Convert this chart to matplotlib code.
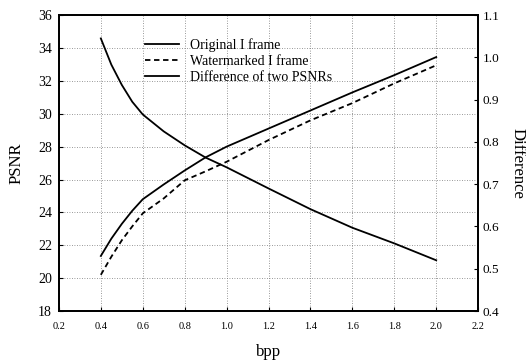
import numpy as np
import matplotlib.pyplot as plt

plt.rcParams['font.family'] = ['Liberation Serif', 'DejaVu Serif']

# PSNR vs bit rate for original and watermarked I frames
bpp = [0.4, 0.45, 0.5, 0.55, 0.6, 0.7, 0.8, 0.9, 1.0, 1.2, 1.4, 1.6, 1.8, 2.0]
psnr_orig = [21.35, 22.4, 23.3, 24.1, 24.8, 25.7, 26.55, 27.35, 28.0, 29.1, 30.2, 31.3, 32.35, 33.45]
psnr_wm = [20.2, 21.3, 22.3, 23.15, 23.94, 24.85, 25.95, 26.5, 27.08, 28.4, 29.6, 30.65, 31.85, 32.95]
# difference between the two PSNRs (right axis)
diff = [1.045, 0.983, 0.935, 0.895, 0.865, 0.825, 0.792, 0.763, 0.74, 0.69, 0.641, 0.597, 0.56, 0.52]

x_ticks = [0.2, 0.4, 0.6, 0.8, 1.0, 1.2, 1.4, 1.6, 1.8, 2.0, 2.2]
y_ticks = [18, 20, 22, 24, 26, 28, 30, 32, 34, 36]
y2_ticks = [0.4, 0.5, 0.6, 0.7, 0.8, 0.9, 1.0, 1.1]

fig = plt.figure(figsize=(5.26, 3.61), dpi=100)
ax = fig.add_axes([0.112, 0.1385, 0.797, 0.8195])
ax2 = ax.twinx()

l1, = ax.plot(bpp, psnr_orig, color='black', lw=1.3)
l2, = ax.plot(bpp, psnr_wm, color='black', lw=1.3, dashes=(3, 2))
l3, = ax2.plot(bpp, diff, color='black', lw=1.3)

ax.set_xlim(0.2, 2.2)
ax.set_ylim(18, 36)
ax2.set_ylim(0.4, 1.1)
ax.set_xticks(x_ticks)
ax.set_xticklabels([f'{v:.1f}' for v in x_ticks], fontsize=7.5)
ax.set_yticks(y_ticks)
ax.set_yticklabels([str(v) for v in y_ticks], fontsize=10)
ax2.set_yticks(y2_ticks)
ax2.set_yticklabels([f'{v:.1f}' for v in y2_ticks], fontsize=9.5)

ax.grid(True, color='#777777', linestyle=(0, (1, 2)), linewidth=0.6)
ax.tick_params(axis='both', direction='in', length=3, width=0.8)
ax.tick_params(axis='x', pad=8)
ax.tick_params(axis='y', pad=5)
ax2.tick_params(axis='y', direction='in', length=3, width=0.8, pad=3)
for a in (ax, ax2):
    for s in a.spines.values():
        s.set_linewidth(1.3)

ax.set_xlabel('bpp', fontsize=12, labelpad=9)
ax.set_ylabel('PSNR', fontsize=12, va='center', ha='center')
ax.yaxis.set_label_coords(-0.1, 0.5)
ax2.set_ylabel('Difference', fontsize=12, rotation=270, va='center', ha='center')
ax2.yaxis.set_label_coords(1.093, 0.5)

fig.legend([l1, l2, l3],
           ['Original I frame', 'Watermarked I frame', 'Difference of two PSNRs'],
           loc='upper left', bbox_to_anchor=(145 / 526, 1 - 38.5 / 361),
           frameon=False, fontsize=10, borderpad=0, borderaxespad=0,
           handlelength=2.45, handletextpad=0.8, labelspacing=0.2)

fig.savefig('out.png', dpi=100)
